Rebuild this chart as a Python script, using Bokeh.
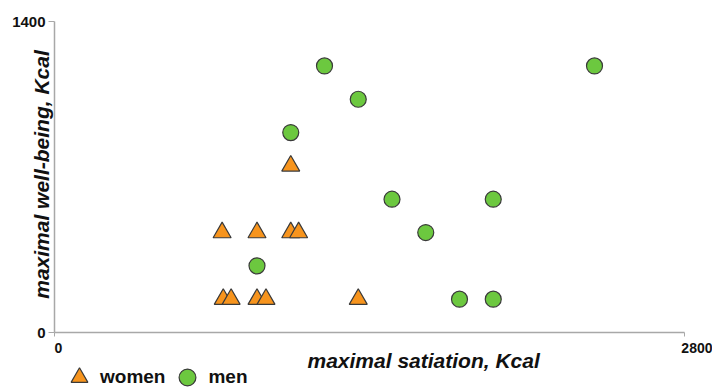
import math
from bokeh.plotting import figure
from bokeh.models import FixedTicker, Label, Legend, LegendItem, Range1d
from bokeh.embed import file_html
from bokeh.resources import INLINE

# data (Kcal)
women_x = [750, 785, 900, 940, 1050, 1350, 745, 900, 1050, 1085]
women_y = [150, 150, 150, 150, 750, 150, 450, 450, 450, 450]
men_x = [1200, 1350, 1050, 1500, 1950, 1650, 900, 1800, 1950, 2400]
men_y = [1200, 1050, 900, 600, 600, 450, 300, 150, 150, 1200]

x_ticks = [0, 2800]
y_ticks = [0, 1400]
x_max, y_max = 2800, 1400

FONT = "Liberation Sans"
ORANGE = "#F7941D"
GREEN = "#6CC83F"
OUTLINE = "#3a3a3a"
AXIS = "#a8a8a8"
TXT = "#111111"

W, H = 712, 387
left, right, top, bottom = 54, 684, 21, 332        # pixel box of the axes
px_x = (right - left) / x_max
px_y = (bottom - top) / y_max

p = figure(width=W, height=H, output_backend="svg", toolbar_location=None,
           x_range=Range1d(-left / px_x, x_max + (W - right) / px_x),
           y_range=Range1d(-(H - bottom) / px_y, y_max + top / px_y),
           min_border=0, min_border_left=0, min_border_right=0,
           min_border_top=0, min_border_bottom=0)
p.grid.visible = False
p.outline_line_color = None
p.background_fill_color = "white"

r_m = p.scatter(men_x, men_y, marker="circle", size=16, fill_color=GREEN,
                line_color=OUTLINE, line_width=1.2)
r_w = p.scatter(women_x, women_y, marker="triangle", size=18, fill_color=ORANGE,
                line_color=OUTLINE, line_width=1.2)

for ax in (p.xaxis[0], p.yaxis[0]):
    ax.axis_line_color = AXIS
    ax.axis_line_width = 1.5
    ax.major_tick_line_color = AXIS
    ax.major_tick_in = 0
    ax.minor_tick_in = 0
    ax.minor_tick_out = 0
    ax.major_label_text_font = FONT
    ax.major_label_text_font_style = "bold"
    ax.major_label_text_color = TXT
    ax.fixed_location = 0

p.xaxis.ticker = FixedTicker(ticks=x_ticks)
p.xaxis.bounds = (0, x_max)
p.xaxis.major_tick_out = 4
p.xaxis.major_label_standoff = 11
p.xaxis.major_label_text_font_size = "14px"
p.xaxis.major_label_orientation = -0.0001   # tiny clockwise tilt -> labels start at the tick

p.yaxis.ticker = FixedTicker(ticks=y_ticks)
p.yaxis.bounds = (0, y_max)
p.yaxis.major_tick_out = 6
p.yaxis.major_label_standoff = 3
p.yaxis.major_label_text_font_size = "15px"

p.add_layout(Label(x=307, y=H - 360, x_units="screen", y_units="screen",
                   text="maximal satiation, Kcal", text_font=FONT,
                   text_font_style="bold italic", text_font_size="21px",
                   text_align="left", text_baseline="alphabetic", text_color=TXT))
p.add_layout(Label(x=41, y=H - 174, x_units="screen", y_units="screen",
                   text="maximal well-being, Kcal", text_font=FONT, angle=math.pi / 2,
                   text_font_style="bold italic", text_font_size="21px",
                   text_align="center", text_baseline="alphabetic", text_color=TXT))

legend = Legend(items=[LegendItem(label="women", renderers=[r_w]),
                       LegendItem(label="men", renderers=[r_m])],
                orientation="horizontal", location=(58, -11),
                glyph_width=42, glyph_height=42, label_standoff=0, spacing=1,
                padding=0, margin=0, border_line_color=None, background_fill_alpha=0,
                label_text_font=FONT, label_text_font_style="bold",
                label_text_font_size="19px", label_text_color=TXT)
p.add_layout(legend)

open("out.html", "w").write(file_html(p, INLINE))
